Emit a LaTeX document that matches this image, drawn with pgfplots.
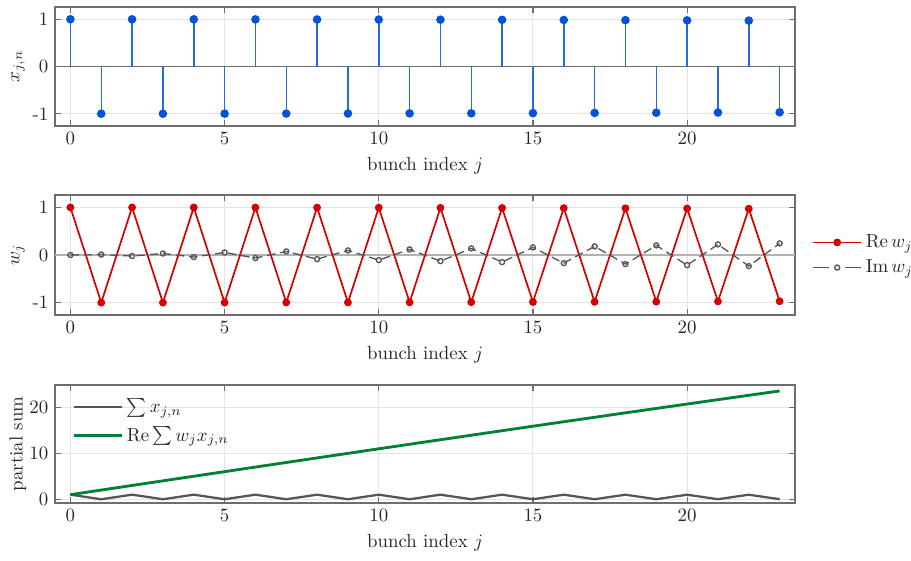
\documentclass[border=0pt]{standalone}
\usepackage{pgfplots}
\pgfplotsset{compat=1.18}
\usepackage{pgfplotstable}

\definecolor{stemblue}{RGB}{0,82,220}
\definecolor{rered}{RGB}{214,0,0}
\definecolor{imgray}{RGB}{85,85,85}
\definecolor{sumgreen}{RGB}{0,128,51}
\definecolor{framegray}{RGB}{110,110,110}
\definecolor{gridgray}{RGB}{228,228,228}

% j, x_{j,n}, Re w_j, Im w_j, partial sum of x, Re partial sum of w x
\pgfplotstableread{
j  x         re        im        sx       sw
0  1.00000   1.00000   0.00000   1.00000  1.00000
1  -0.99994  -0.99994  0.01070   0.00006  1.99989
2  0.99977   0.99977   -0.02140  0.99983  2.99943
3  -0.99948  -0.99948  0.03210   0.00035  3.99840
4  0.99908   0.99908   -0.04279  0.99943  4.99657
5  -0.99857  -0.99857  0.05347   0.00086  5.99371
6  0.99794   0.99794   -0.06416  0.99880  6.98959
7  -0.99720  -0.99720  0.07483   0.00160  7.98399
8  0.99634   0.99634   -0.08550  0.99794  8.97668
9  -0.99537  -0.99537  0.09615   0.00257  9.96744
10 0.99428   0.99428   -0.10680  0.99685  10.95603
11 -0.99308  -0.99308  0.11743   0.00377  11.94224
12 0.99177   0.99177   -0.12805  0.99554  12.92584
13 -0.99034  -0.99034  0.13865   0.00520  13.90662
14 0.98880   0.98880   -0.14924  0.99400  14.88435
15 -0.98715  -0.98715  0.15981   0.00685  15.85881
16 0.98538   0.98538   -0.17036  0.99223  16.82979
17 -0.98350  -0.98350  0.18090   0.00873  17.79706
18 0.98151   0.98151   -0.19141  0.99024  18.76042
19 -0.97941  -0.97941  0.20190   0.01083  19.71966
20 0.97719   0.97719   -0.21237  0.98802  20.67456
21 -0.97486  -0.97486  0.22281   0.01316  21.62492
22 0.97242   0.97242   -0.23323  0.98558  22.57052
23 -0.96987  -0.96987  0.24362   0.01571  23.51117
}\data

\pgfplotsset{
  panel/.style={
    scale only axis,
    width=392.2pt,
    xmin=-0.5, xmax=23.5,
    xtick={0,5,10,15,20},
    axis line style={framegray, line width=0.7pt},
    major tick style={framegray, line width=0.6pt},
    major tick length=3.4pt,
    tick align=inside,
    grid=major,
    major grid style={gridgray, line width=0.5pt},
    xlabel={bunch index $j$},
    xlabel style={at={(axis description cs:0.5,0)}, anchor=north, yshift=-13pt},
    ylabel style={at={(axis description cs:-0.05,0.5)}, anchor=center},
    tick label style={font=\normalsize, text=black!85},
    label style={text=black!85},
    legend image code/.code={%
      \draw[mark repeat=2, mark phase=2, ##1]
        plot coordinates {(0pt,0pt) (12.7pt,0pt) (25.4pt,0pt)};},
  },
  % dashed legend sample: one dash on each side of the marker
  imlegend/.style={
    legend image code/.code={%
      \draw[##1, solid] (0pt,0pt) -- (8.5pt,0pt) (16.9pt,0pt) -- (25.4pt,0pt);
      \draw[##1] plot[only marks] coordinates {(12.7pt,0pt)};},
  },
}

\begin{document}
\begin{tikzpicture}
\useasboundingbox (0,0) rectangle (482.8pt,-296.8pt);

% stems of x_{j,n}
\begin{axis}[panel, at={(29.15pt,-3.71pt)}, anchor=north west,
  height=63.07pt, ymin=-1.26, ymax=1.26,
  ytick={-1,0,1}, yticklabels={\mbox{-1},0,1},
  ylabel={$x_{j,n}$}]
  \addplot[framegray, line width=0.7pt, forget plot] coordinates {(-0.5,0) (23.5,0)};
  \addplot[ycomb, stemblue!85, line width=0.8pt,
    mark=*, mark size=1.85pt, mark options={stemblue, fill=stemblue}]
    table[x=j, y=x] {\data};
\end{axis}

% the weights w_j
\begin{axis}[panel, at={(29.15pt,-103.35pt)}, anchor=north west,
  height=63.6pt, ymin=-1.26, ymax=1.26,
  ytick={-1,0,1}, yticklabels={\mbox{-1},0,1},
  ylabel={$w_j$},
  legend style={at={(1.0,0.5)}, anchor=west, xshift=6pt, draw=none, fill=none,
    font=\normalsize, row sep=1pt, text=black!85},
  legend cell align=left]
  \addplot[black!30, line width=0.7pt, forget plot] coordinates {(-0.5,0) (23.5,0)};
  \addplot[rered, line width=0.9pt, mark=*, mark size=1.6pt,
    mark options={fill=rered}]
    table[x=j, y=re] {\data};
  \addlegendentry{$\mathrm{Re}\,w_j$}
  \addplot[imgray, line width=0.7pt, dash pattern=on 4.5pt off 2.5pt,
    mark=o, mark size=1.35pt, mark options={solid, fill=white}, imlegend]
    table[x=j, y=im] {\data};
  \addlegendentry{$\mathrm{Im}\,w_j$}
\end{axis}

% partial sums
\begin{axis}[panel, at={(29.15pt,-204.05pt)}, anchor=north west,
  height=62.5pt, ymin=-0.8, ymax=24.8,
  ytick={0,10,20},
  ylabel={partial sum},
  legend style={at={(0.0,1.0)}, anchor=north west, xshift=6pt, yshift=-3pt,
    draw=none, fill=none, font=\normalsize, row sep=2pt, text=black!85},
  legend cell align=left]
  \addplot[imgray, line width=1.2pt, no marks] table[x=j, y=sx] {\data};
  \addlegendentry{$\sum x_{j,n}$}
  \addplot[sumgreen, line width=1.5pt, no marks] table[x=j, y=sw] {\data};
  \addlegendentry{$\mathrm{Re}\sum w_j x_{j,n}$}
\end{axis}
\end{tikzpicture}
\end{document}
